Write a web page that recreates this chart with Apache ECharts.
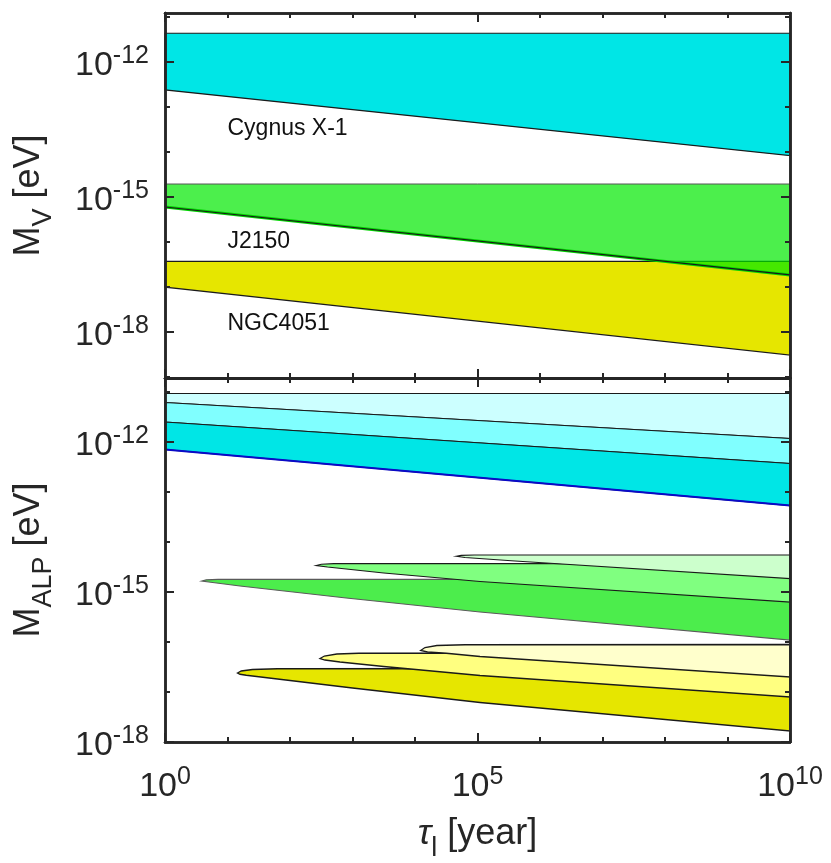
<!DOCTYPE html>
<html>
<head>
<meta charset="utf-8">
<script src="https://cdn.jsdelivr.net/npm/echarts@6/dist/echarts.min.js"></script>
<style>
html, body { margin: 0; padding: 0; background: #fff; }
#chart { width: 831px; height: 863px; }
</style>
</head>
<body>
<div id="chart"></div>
<script>
// every value is a log10: x = log10(tau_l / year), y = log10(M / eV)

// ticks and ranges
var xTicks = [0, 1, 2, 3, 4, 5, 6, 7, 8, 9, 10];
var xLabels = [0, 5, 10];
var xRange = [0, 10];
var yTicksTop = [-19, -18, -17, -16, -15, -14, -13, -12, -11];
var yTicksBottom = [-18, -17, -16, -15, -14, -13, -12, -11];
var yLabels = [-18, -15, -12];
var yRangeTop = [-19.03, -10.92];
var yRangeBottom = [-18, -10.72];

// top panel (vector): band edges at x = 0 and x = 10
var vecCygnusTop = [-11.37, -11.37];
var vecCygnusLow = [-12.63, -14.09];
var vecJ2150Top = [-14.72, -14.72];
var vecJ2150Low = [-15.23, -16.74];
var vecNgcTop = [-16.44, -16.44];
var vecNgcLow = [-17.01, -18.52];

var sourceNames = ['Cygnus X-1', 'J2150', 'NGC4051'];
var sourceX = [1, 1, 1];
var sourceY = [-13.49, -16.0, -17.83];

// bottom panel (ALP): Cygnus X-1 band edges at x = 0 and x = 10, top to bottom
var alpCygnusEdges = [[-11.03, -11.03], [-11.21, -11.93], [-11.6, -12.43], [-12.15, -13.27]];

// ALP tongues: upper edge from the tip to the right, lower edge after the tip to the right
var alpJ2150Upper = [
  [[0.59, -14.78], [0.66, -14.757], [0.85, -14.747], [10, -14.745]],
  [[2.42, -14.47], [2.5, -14.445], [2.7, -14.433], [10, -14.43]],
  [[4.66, -14.285], [4.74, -14.266], [4.95, -14.26], [10, -14.26]]
];
var alpJ2150Lower = [
  [[0.7, -14.80], [1.2, -14.88], [2.9, -15.12], [5.04, -15.40], [10, -15.96]],
  [[2.6, -14.50], [3.5, -14.62], [5.04, -14.79], [10, -15.20]],
  [[4.8, -14.31], [5.6, -14.38], [10, -14.73]]
];
var alpNgcUpper = [
  [[1.16, -16.62], [1.22, -16.58], [1.4, -16.55], [1.8, -16.535], [10, -16.53]],
  [[2.48, -16.33], [2.55, -16.28], [2.75, -16.24], [3.1, -16.225], [10, -16.22]],
  [[4.09, -16.17], [4.16, -16.11], [4.35, -16.07], [4.8, -16.055], [10, -16.05]]
];
var alpNgcLower = [
  [[1.2, -16.645], [1.3, -16.665], [1.8, -16.74], [3.0, -16.92], [5.04, -17.21], [10, -17.78]],
  [[2.56, -16.36], [2.8, -16.40], [3.5, -16.49], [5.04, -16.67], [10, -17.10]],
  [[4.2, -16.20], [4.5, -16.225], [5.04, -16.29], [10, -16.70]]
];

var cyanColors = ['#ccffff', '#80ffff', '#00e6e6'];
var greenColors = ['#4ced4c', '#80ff80', '#ccffcc'];
var yellowColors = ['#e6e600', '#ffff80', '#ffffcc'];

var FONT = 'Liberation Sans';
var INK = '#262626';

var tickRich = {
  b: { fontSize: 34, lineHeight: 44, fontFamily: FONT, color: INK },
  s: { fontSize: 25, lineHeight: 18, verticalAlign: 'top', fontFamily: FONT, color: INK }
};
var nameRich = {
  m: { fontSize: 36, lineHeight: 56, fontFamily: FONT, color: INK },
  t: { fontSize: 36, lineHeight: 56, fontFamily: FONT, fontStyle: 'italic', color: INK },
  sub: { fontSize: 27, lineHeight: 12, verticalAlign: 'bottom', fontFamily: FONT, color: INK }
};

function supLabel(v) { return '{b|10}{s|' + v + '}'; }

function frameAxis(g, pos, range, ticks, len, labelVals, labelOpt, extra) {
  var a = {
    type: 'value', gridIndex: g, position: pos, min: range[0], max: range[1], z: 10,
    axisLine: { show: true, onZero: false, lineStyle: { color: INK, width: 2.5 } },
    axisTick: { show: true, inside: true, length: len, customValues: ticks,
                lineStyle: { color: INK, width: 2 } },
    axisLabel: { show: false },
    splitLine: { show: false }
  };
  if (labelVals) {
    a.axisLabel = Object.assign({ show: true, customValues: labelVals, formatter: supLabel, rich: tickRich }, labelOpt);
  }
  return Object.assign(a, extra || {});
}

// 4 x axes and 4 y axes per grid: short ticks every decade, long ticks at labels
var xAxes = [], yAxes = [];
[0, 1].forEach(function (g) {
  var bottomLabels = g === 1 ? xLabels : null;
  var xName = g === 1 ? {
    name: '{t|\u03c4}{sub|l}{m| [year]}', nameLocation: 'middle', nameGap: 64,
    nameTextStyle: { rich: nameRich }
  } : {};
  xAxes.push(frameAxis(g, 'bottom', xRange, xTicks, 5));
  xAxes.push(frameAxis(g, 'bottom', xRange, xLabels, 9, bottomLabels, { margin: 23 }, xName));
  xAxes.push(frameAxis(g, 'top', xRange, xTicks, 5));
  xAxes.push(frameAxis(g, 'top', xRange, xLabels, 9));

  var yr = g === 0 ? yRangeTop : yRangeBottom;
  var yt = g === 0 ? yTicksTop : yTicksBottom;
  var yName = {
    name: g === 0 ? '{m|M}{sub|V}{m| [eV]}' : '{m|M}{sub|ALP}{m| [eV]}',
    nameLocation: 'middle', nameGap: 108, nameRotate: 90,
    nameTextStyle: { rich: nameRich }
  };
  yAxes.push(frameAxis(g, 'left', yr, yt, 5));
  yAxes.push(frameAxis(g, 'left', yr, yLabels, 9, yLabels, { margin: 16, padding: [8, 0, 0, 0] }, yName));
  yAxes.push(frameAxis(g, 'right', yr, yt, 5));
  yAxes.push(frameAxis(g, 'right', yr, yLabels, 9));
});

// filled outline plus optional extra edge lines, all through the axis scales
function areaSeries(g, pts, fill, stroke, width, edges) {
  return {
    type: 'custom', coordinateSystem: 'cartesian2d',
    xAxisIndex: g * 4, yAxisIndex: g * 4, silent: true, z: 2,
    data: [pts[0]],
    renderItem: function (params, api) {
      var children = [{
        type: 'polygon',
        shape: { points: pts.map(function (p) { return api.coord(p); }) },
        style: { fill: fill, stroke: stroke, lineWidth: width }
      }];
      (edges || []).forEach(function (e) {
        children.push({
          type: 'polyline',
          shape: { points: e.pts.map(function (p) { return api.coord(p); }) },
          style: { fill: null, stroke: e.color, lineWidth: e.width }
        });
      });
      return { type: 'group', children: children };
    }
  };
}

function band(top, low) {
  return [[0, top[0]], [10, top[1]], [10, low[1]], [0, low[0]]];
}
function tongue(upper, lower) {
  return upper.concat(lower.slice().reverse());
}

var series = [];
// top panel
series.push(areaSeries(0, band(vecCygnusTop, vecCygnusLow), '#00e6e6', '#1a1a1a', 1.2));
series.push(areaSeries(0, band(vecNgcTop, vecNgcLow), '#e6e600', '#1a1a1a', 1.2));
series.push(areaSeries(0, band(vecJ2150Top, vecJ2150Low), 'rgba(0,232,0,0.7)', '#555', 1, [
  { pts: [[0, vecJ2150Low[0]], [10, vecJ2150Low[1]]], color: '#00d400', width: 3 },
  { pts: [[0, vecJ2150Low[0]], [10, vecJ2150Low[1]]], color: '#1a1a1a', width: 1.2 }
]));
series.push({
  type: 'custom', coordinateSystem: 'cartesian2d', xAxisIndex: 0, yAxisIndex: 0, z: 5, silent: true,
  data: sourceX.map(function (x, i) { return [x, sourceY[i]]; }),
  renderItem: function (params, api) {
    var p = api.coord([api.value(0), api.value(1)]);
    return { type: 'text', x: p[0], y: p[1],
      style: { text: sourceNames[params.dataIndex], fontSize: 23, fontFamily: FONT,
               fill: '#111', align: 'left', verticalAlign: 'middle' } };
  }
});

// bottom panel: Cygnus X-1 bands
for (var i = 0; i < 3; i++) {
  var edges = i === 2 ? [{ pts: [[0, alpCygnusEdges[3][0]], [10, alpCygnusEdges[3][1]]], color: '#0a0ac8', width: 1.8 }] : null;
  series.push(areaSeries(1, band(alpCygnusEdges[i], alpCygnusEdges[i + 1]), cyanColors[i], '#1a1a1a', 1.2, edges));
}
// J2150 and NGC4051 tongues, darkest first
for (var k = 0; k < 3; k++) {
  series.push(areaSeries(1, tongue(alpJ2150Upper[k], alpJ2150Lower[k]), greenColors[k], k === 0 ? '#5a5a5a' : '#1a1a1a', 1.2));
}
for (var m = 0; m < 3; m++) {
  series.push(areaSeries(1, tongue(alpNgcUpper[m], alpNgcLower[m]), yellowColors[m], '#1a1a1a', 1.3));
}

var chart = echarts.init(document.getElementById('chart'));
chart.setOption({
  animation: false,
  backgroundColor: '#fff',
  textStyle: { fontFamily: FONT },
  grid: [
    { left: 165, top: 13, width: 625, height: 365, containLabel: false, outerBoundsMode: 'none' },
    { left: 165, top: 378, width: 625, height: 364, containLabel: false, outerBoundsMode: 'none' }
  ],
  xAxis: xAxes,
  yAxis: yAxes,
  series: series
});
</script>
</body>
</html>
